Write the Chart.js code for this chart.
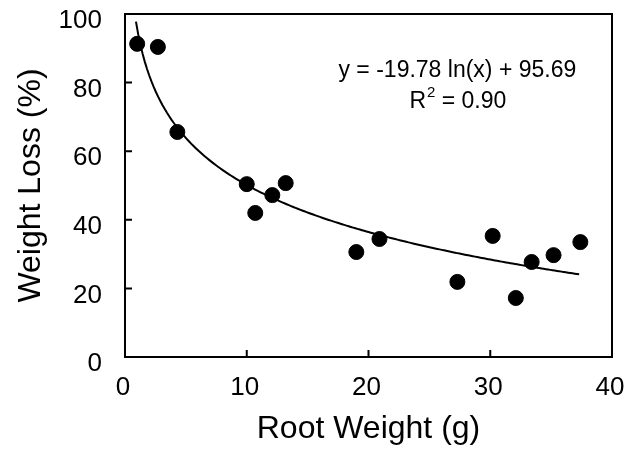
<!DOCTYPE html>
<html>
<head>
<meta charset="utf-8">
<script src="https://cdn.jsdelivr.net/npm/chart.js@4.4.1/dist/chart.umd.min.js"></script>
<style>
  html, body { margin: 0; padding: 0; background: #fff; }
  #wrap { width: 642px; height: 453px; }
</style>
</head>
<body>
<div id="wrap"><canvas id="grafico" width="642" height="453"></canvas></div>
<script>
// datos
const pesoRaiz = [1.0, 2.7, 4.3, 10.0, 10.7, 12.1, 13.2, 19.0, 20.9, 27.3, 30.2, 32.1, 33.4, 35.2, 37.4];
const perdidaPeso = [91.3, 90.4, 65.6, 50.4, 42.0, 47.2, 50.7, 30.6, 34.4, 21.9, 35.3, 17.2, 27.7, 29.7, 33.5];
const ticksX = [0, 10, 20, 30, 40];
const ticksY = [0, 20, 40, 60, 80, 100];

// ajuste logaritmico impreso en la figura
const coefA = -19.78;
const coefB = 95.69;
const textoEcuacion = 'y = -19.78 ln(x) + 95.69';
const textoR2 = ['R', '2', ' = 0.90'];
const rangoCurva = [0.9, 37.3];

const curva = [];
for (let i = 0; i <= 200; i++) {
    const x = rangoCurva[0] + (rangoCurva[1] - rangoCurva[0]) * i / 200;
    curva.push({ x: x, y: coefA * Math.log(x) + coefB });
}

const fuente = '"Liberation Sans", Arial, sans-serif';

// marco, ticks hacia adentro y texto de la ecuacion
const marcoPlugin = {
    id: 'marco',
    afterDraw(chart) {
        const { ctx, chartArea: a, scales } = chart;
        ctx.save();
        ctx.strokeStyle = '#000';
        ctx.lineWidth = 2;
        ctx.strokeRect(a.left, a.top, a.right - a.left, a.bottom - a.top);
        ctx.beginPath();
        ticksX.slice(1, -1).forEach(v => {
            const px = scales.x.getPixelForValue(v);
            ctx.moveTo(px, a.bottom);
            ctx.lineTo(px, a.bottom - 7);
        });
        ticksY.slice(1, -1).forEach(v => {
            const py = scales.y.getPixelForValue(v);
            ctx.moveTo(a.left, py);
            ctx.lineTo(a.left + 7, py);
        });
        ctx.stroke();

        ctx.fillStyle = '#000';
        ctx.font = '23px ' + fuente;
        ctx.textBaseline = 'middle';
        ctx.textAlign = 'center';
        const cx = scales.x.getPixelForValue(27.3);
        ctx.fillText(textoEcuacion, cx, scales.y.getPixelForValue(83.4));
        // R^2 con superindice
        const y2 = scales.y.getPixelForValue(74.4);
        ctx.textAlign = 'left';
        const w1 = ctx.measureText(textoR2[0]).width;
        const w3 = ctx.measureText(textoR2[2]).width;
        ctx.font = '15px ' + fuente;
        const w2 = ctx.measureText(textoR2[1]).width;
        const x0 = cx - (w1 + w2 + w3) / 2;
        ctx.font = '23px ' + fuente;
        ctx.fillText(textoR2[0], x0, y2);
        ctx.font = '15px ' + fuente;
        ctx.fillText(textoR2[1], x0 + w1 + 1, y2 - 9);
        ctx.font = '23px ' + fuente;
        ctx.fillText(textoR2[2], x0 + w1 + w2 + 1, y2);
        ctx.restore();
    }
};

new Chart(document.getElementById('grafico'), {
    type: 'scatter',
    data: {
        datasets: [
            {
                data: pesoRaiz.map((x, i) => ({ x: x, y: perdidaPeso[i] })),
                backgroundColor: '#000',
                borderColor: '#000',
                pointRadius: 7.5,
                pointHoverRadius: 7.5
            },
            {
                type: 'line',
                data: curva,
                borderColor: '#000',
                borderWidth: 2,
                pointRadius: 0,
                fill: false,
                tension: 0
            }
        ]
    },
    options: {
        responsive: false,
        animation: false,
        devicePixelRatio: 1,
        layout: { padding: { top: 14, right: 30, left: 0, bottom: 0 } },
        plugins: { legend: { display: false }, tooltip: { enabled: false } },
        scales: {
            x: {
                type: 'linear',
                min: 0, max: 40,
                afterBuildTicks: s => { s.ticks = ticksX.map(v => ({ value: v })); },
                afterFit: s => { s.height = 96; s.paddingLeft = 0; s.paddingRight = 0; },
                grid: { display: false, drawTicks: false },
                border: { display: false },
                ticks: { color: '#000', padding: 15, labelOffset: -2, font: { family: fuente, size: 26 } },
                title: {
                    display: true, text: 'Root Weight (g)', color: '#000',
                    font: { family: fuente, size: 32 }, padding: { top: 0, bottom: 5 }
                }
            },
            y: {
                type: 'linear',
                min: 0, max: 100,
                afterBuildTicks: s => { s.ticks = ticksY.map(v => ({ value: v })); },
                afterFit: s => { s.width = 125; s.paddingTop = 0; s.paddingBottom = 0; },
                grid: { display: false, drawTicks: false },
                border: { display: false },
                ticks: { color: '#000', padding: 23, labelOffset: 7, font: { family: fuente, size: 26 } },
                title: {
                    display: true, text: 'Weight Loss (%)', color: '#000',
                    font: { family: fuente, size: 32 }, padding: { top: 12, bottom: 0 }
                }
            }
        }
    },
    plugins: [marcoPlugin]
});
</script>
</body>
</html>
